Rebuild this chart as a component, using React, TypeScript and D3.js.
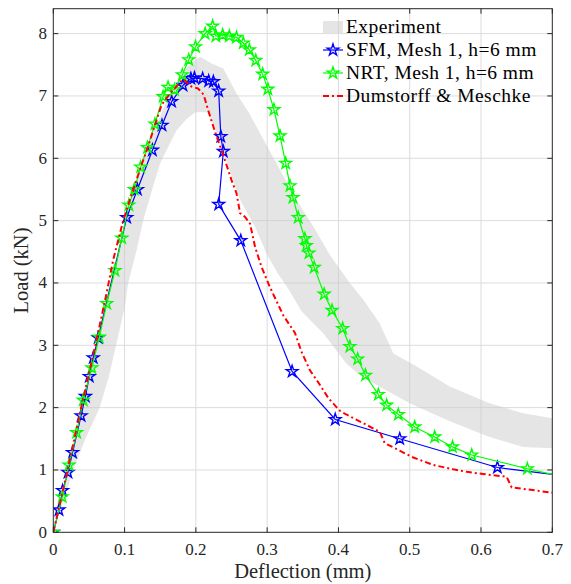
import React from "react";
import * as d3 from "d3";

const width = 571;
const height = 584;
const left = 53.3;
const right = 552.3;
const top = 8.7;
const bottom = 532.3;

const xTicks = [0, 0.1, 0.2, 0.3, 0.4, 0.5, 0.6, 0.7];
const yTicks = [0, 1, 2, 3, 4, 5, 6, 7, 8];
const legendLabels = ["Experiment", "SFM, Mesh 1, h=6 mm", "NRT, Mesh 1, h=6 mm", "Dumstorff & Meschke"];

// experiment band: upper edge and lower edge
const expUpper: [number, number][] = [
  [0, 0], [0.01, 0.42], [0.02, 0.95], [0.03, 1.5], [0.045, 2.3], [0.06, 3.05], [0.08, 4.05],
  [0.1, 4.95], [0.12, 5.75], [0.14, 6.4], [0.16, 6.95], [0.18, 7.35], [0.195, 7.55], [0.206, 7.63],
  [0.222, 7.52], [0.2385, 7.44], [0.257, 7.04], [0.275, 6.72], [0.29, 6.4], [0.313, 5.92],
  [0.341, 5.33], [0.365, 4.9], [0.388, 4.45], [0.416, 4.0], [0.435, 3.73], [0.458, 3.35],
  [0.477, 2.87], [0.51, 2.66], [0.556, 2.34], [0.612, 2.07], [0.659, 1.91], [0.7, 1.83],
];
const expLower: [number, number][] = [
  [0, 0], [0.01, 0.35], [0.028, 1.0], [0.045, 1.5], [0.065, 2.0], [0.078, 2.5], [0.088, 3.0],
  [0.1, 3.6], [0.105, 4.0], [0.117, 4.53], [0.126, 5.0], [0.14, 5.55], [0.15, 5.92], [0.162, 6.2],
  [0.173, 6.45], [0.186, 6.62], [0.199, 6.74], [0.217, 6.74], [0.229, 6.4], [0.2455, 5.87],
  [0.262, 5.33], [0.283, 4.9], [0.3, 4.45], [0.315, 4.15], [0.33, 3.9], [0.348, 3.55], [0.365, 3.35],
  [0.379, 3.19], [0.395, 2.95], [0.411, 2.71], [0.43, 2.52], [0.449, 2.39], [0.5, 2.07],
  [0.552, 1.8], [0.612, 1.53], [0.659, 1.37], [0.7, 1.35],
];

const sfm: [number, number][] = [
  [0, 0], [0.008, 0.36], [0.013, 0.67], [0.0206, 0.96], [0.027, 1.28], [0.039, 1.87], [0.045, 2.18],
  [0.0505, 2.5], [0.056, 2.8], [0.063, 3.12], [0.103, 5.05], [0.118, 5.5], [0.139, 6.13],
  [0.1525, 6.53], [0.166, 6.91], [0.182, 7.17], [0.193, 7.28], [0.198, 7.29], [0.2095, 7.28],
  [0.218, 7.24], [0.2245, 7.23], [0.232, 7.08], [0.235, 6.35], [0.2385, 6.11], [0.232, 5.26],
  [0.263, 4.68], [0.335, 2.58], [0.3955, 1.81], [0.486, 1.5], [0.623, 1.04], [0.7, 0.93],
];

const nrt: [number, number][] = [
  [0, 0], [0.0126, 0.57], [0.022, 1.08], [0.0328, 1.6], [0.042, 2.12], [0.054, 2.64], [0.0645, 3.13],
  [0.075, 3.67], [0.0865, 4.2], [0.096, 4.72], [0.106, 5.25], [0.1136, 5.5], [0.1225, 5.86],
  [0.132, 6.17], [0.1426, 6.55], [0.154, 6.99], [0.161, 7.14], [0.17, 7.1], [0.181, 7.34],
  [0.19, 7.58], [0.1995, 7.79], [0.213, 8.0], [0.2235, 8.12], [0.228, 7.96], [0.2375, 7.98],
  [0.247, 7.96], [0.257, 7.94], [0.2665, 7.85], [0.275, 7.74], [0.284, 7.57], [0.2937, 7.35],
  [0.301, 7.11], [0.3095, 6.78], [0.318, 6.36], [0.326, 5.92], [0.332, 5.56], [0.3362, 5.37],
  [0.3436, 5.05], [0.353, 4.71], [0.355, 4.6], [0.3586, 4.48], [0.366, 4.25], [0.38, 3.82],
  [0.391, 3.56], [0.406, 3.27], [0.416, 2.98], [0.427, 2.78], [0.438, 2.52], [0.456, 2.21],
  [0.4676, 2.04], [0.484, 1.89], [0.507, 1.69], [0.535, 1.53], [0.56, 1.37], [0.587, 1.24],
  [0.665, 1.02], [0.7, 0.93],
];

const dumstorff: [number, number][] = [
  [0, 0], [0.02, 1.0], [0.04, 2.05], [0.06, 3.05], [0.075, 3.85], [0.084, 4.37], [0.098, 5.0],
  [0.112, 5.49], [0.123, 5.87], [0.133, 6.19], [0.143, 6.55], [0.152, 6.86], [0.166, 7.07],
  [0.175, 7.18], [0.182, 7.27], [0.194, 7.15], [0.203, 7.12], [0.211, 7.02], [0.217, 6.78],
  [0.227, 6.42], [0.2385, 6.05], [0.25, 5.65], [0.257, 5.44], [0.262, 5.12], [0.269, 5.06],
  [0.276, 4.95], [0.283, 4.58], [0.292, 4.26], [0.304, 3.93], [0.3226, 3.48], [0.339, 3.2],
  [0.348, 2.9], [0.36, 2.6], [0.372, 2.4], [0.386, 2.15], [0.402, 1.95], [0.411, 1.89],
  [0.435, 1.75], [0.458, 1.61], [0.465, 1.43], [0.479, 1.35], [0.505, 1.2], [0.533, 1.08],
  [0.561, 1.01], [0.58, 0.97], [0.603, 0.935], [0.636, 0.89], [0.643, 0.72], [0.664, 0.69],
  [0.7, 0.635],
];

const font = "Liberation Serif, Times New Roman, serif";

export default function App() {
  const x = d3.scaleLinear().domain([0, 0.7]).range([left, right]);
  const y = d3.scaleLinear().domain([0, 8.4]).range([bottom, top]);
  const line = d3.line<[number, number]>().x((d) => x(d[0])).y((d) => y(d[1]));
  const band = line([...expUpper, ...expLower.slice().reverse()]) + "Z";
  const star = d3.symbol().type(d3.symbolStar).size(42)()!;

  const stars = (data: [number, number][], color: string) =>
    data
      .filter((d) => d[0] < 0.7)
      .map((d, i) => (
        <path key={i} d={star} transform={`translate(${x(d[0])},${y(d[1])})`}
          fill="none" stroke={color} strokeWidth={1.4} />
      ));

  const legendX = 323;
  const legendRows = [27, 50, 73, 96];

  return (
    <svg width={width} height={height}
      style={{ position: "absolute", left: 0, top: 0, background: "#fff", fontFamily: font }}>
      <defs>
        <clipPath id="plot">
          <rect x={left} y={top} width={right - left} height={bottom - top} />
        </clipPath>
      </defs>
      <rect x={left} y={top} width={right - left} height={bottom - top} fill="#fff" />
      {/* grid */}
      {xTicks.slice(1, -1).map((t) => (
        <line key={"gx" + t} x1={x(t)} x2={x(t)} y1={top} y2={bottom} stroke="#dcdcdc" strokeWidth={1} />
      ))}
      {yTicks.slice(1).map((t) => (
        <line key={"gy" + t} x1={left} x2={right} y1={y(t)} y2={y(t)} stroke="#dcdcdc" strokeWidth={1} />
      ))}
      <g clipPath="url(#plot)">
        <path d={band} fill="#c8c8c8" fillOpacity={0.48} stroke="none" />
        <path d={line(sfm)!} fill="none" stroke="#0000ff" strokeWidth={1.2} />
        {stars(sfm, "#0000ff")}
        <path d={line(nrt)!} fill="none" stroke="#00ff00" strokeWidth={1.2} />
        {stars(nrt, "#00ff00")}
        <path d={line(dumstorff)!} fill="none" stroke="#ff0000" strokeWidth={2}
          strokeDasharray="6,3,2,3" />
      </g>
      {/* box and ticks */}
      <rect x={left} y={top} width={right - left} height={bottom - top} fill="none" stroke="#262626" strokeWidth={1} />
      {xTicks.map((t) => (
        <g key={"tx" + t}>
          <line x1={x(t)} x2={x(t)} y1={bottom} y2={bottom - 5} stroke="#262626" />
          <line x1={x(t)} x2={x(t)} y1={top} y2={top + 5} stroke="#262626" />
          <text x={x(t)} y={555} textAnchor="middle" fontSize={17} fill="#262626"
            style={{ fontFamily: font }}>{t}</text>
        </g>
      ))}
      {yTicks.map((t) => (
        <g key={"ty" + t}>
          <line x1={left} x2={left + 5} y1={y(t)} y2={y(t)} stroke="#262626" />
          <line x1={right} x2={right - 5} y1={y(t)} y2={y(t)} stroke="#262626" />
          <text x={47} y={y(t) + 5.5} textAnchor="end" fontSize={17} fill="#262626"
            style={{ fontFamily: font }}>{t}</text>
        </g>
      ))}
      <text x={(left + right) / 2} y={578} textAnchor="middle" fontSize={20.5} fill="#262626"
        style={{ fontFamily: font }}>Deflection (mm)</text>
      <text transform={`translate(28,${(top + bottom) / 2}) rotate(-90)`} textAnchor="middle" fontSize={20.5}
        fill="#262626" style={{ fontFamily: font }}>Load (kN)</text>
      {/* legend */}
      <g>
        <rect x={legendX} y={legendRows[0] - 6} width={20} height={12} fill="#c8c8c8" fillOpacity={0.48} />
        <line x1={legendX} x2={legendX + 20} y1={legendRows[1]} y2={legendRows[1]} stroke="#0000ff" strokeWidth={1.2} />
        <path d={star} transform={`translate(${legendX + 10},${legendRows[1]})`} fill="none" stroke="#0000ff" strokeWidth={1.4} />
        <line x1={legendX} x2={legendX + 20} y1={legendRows[2]} y2={legendRows[2]} stroke="#00ff00" strokeWidth={1.2} />
        <path d={star} transform={`translate(${legendX + 10},${legendRows[2]})`} fill="none" stroke="#00ff00" strokeWidth={1.4} />
        <line x1={legendX} x2={legendX + 20} y1={legendRows[3]} y2={legendRows[3]} stroke="#ff0000" strokeWidth={2}
          strokeDasharray="6,3,2,3" />
        {legendLabels.map((l, i) => (
          <text key={l} x={346} y={legendRows[i] + 6} fontSize={19.5} letterSpacing={0.45} fill="#000"
            style={{ fontFamily: font }}>{l}</text>
        ))}
      </g>
    </svg>
  );
}
